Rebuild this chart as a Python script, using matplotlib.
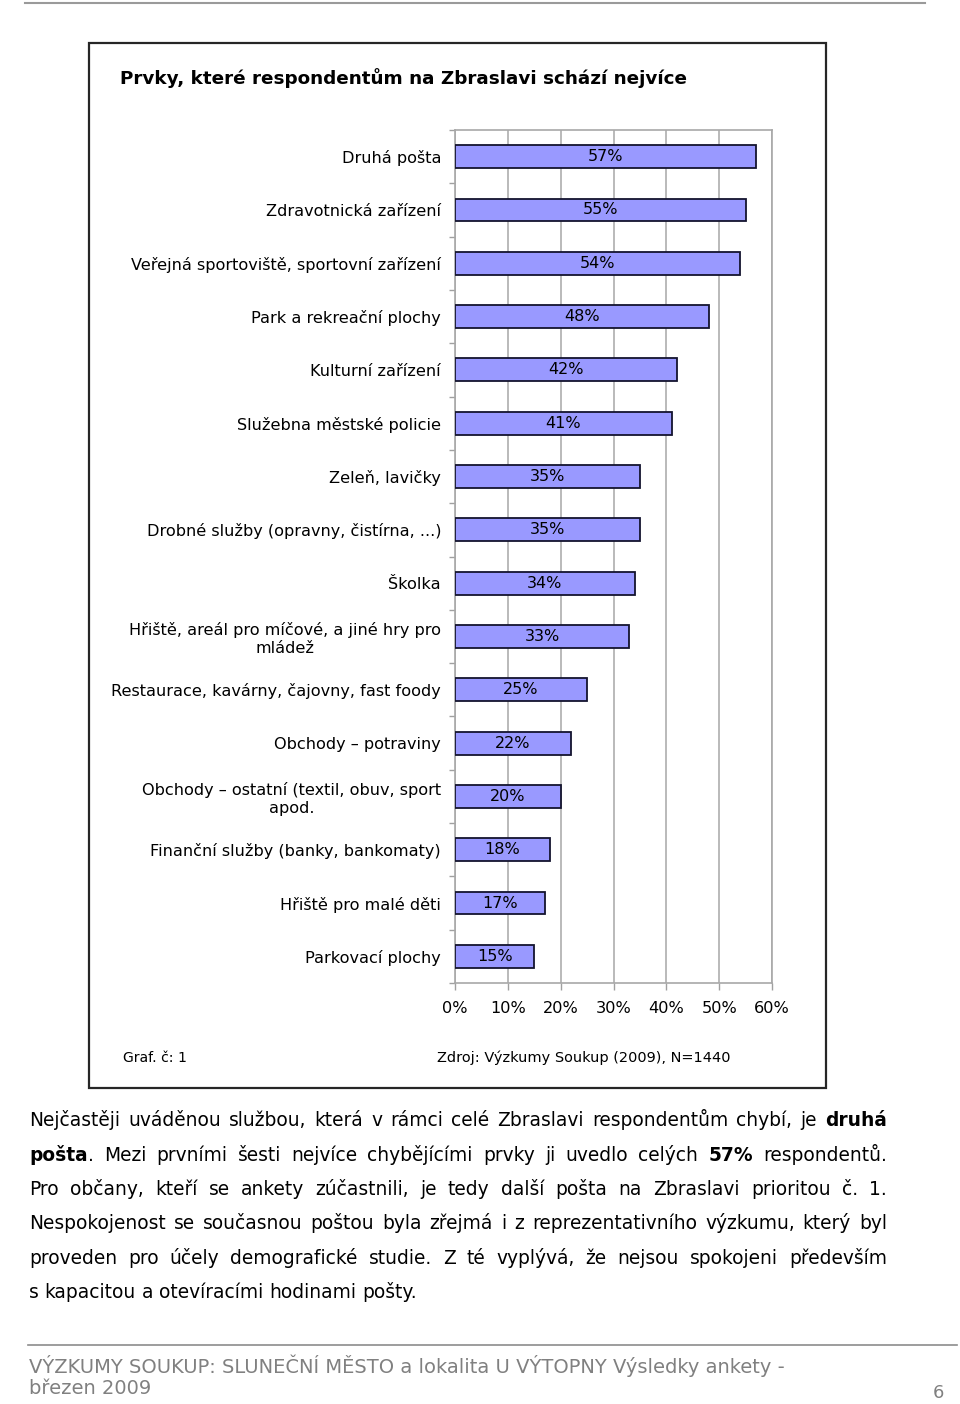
import numpy as np
import matplotlib.pyplot as plt
from matplotlib.patches import Rectangle

# data
categories = [
    'Druhá pošta',
    'Zdravotnická zařízení',
    'Veřejná sportoviště, sportovní zařízení',
    'Park a rekreační plochy',
    'Kulturní zařízení',
    'Služebna městské policie',
    'Zeleň, lavičky',
    'Drobné služby (opravny, čistírna, ...)',
    'Školka',
    'Hřiště, areál pro míčové, a jiné hry pro\nmládež',
    'Restaurace, kavárny, čajovny, fast foody',
    'Obchody – potraviny',
    'Obchody – ostatní (textil, obuv, sport\napod.',
    'Finanční služby (banky, bankomaty)',
    'Hřiště pro malé děti',
    'Parkovací plochy',
]
values = [57, 55, 54, 48, 42, 41, 35, 35, 34, 33, 25, 22, 20, 18, 17, 15]
x_ticks = [0, 10, 20, 30, 40, 50, 60]

title = 'Prvky, které respondentům na Zbraslavi schází nejvíce'
graf_note = 'Graf. č: 1'
source_note = 'Zdroj: Výzkumy Soukup (2009), N=1440'

# paragraph lines, *...* marks bold
para_lines = [
    'Nejčastěji uváděnou službou, která v rámci celé Zbraslavi respondentům chybí, je *druhá*',
    '*pošta*. Mezi prvními šesti nejvíce chybějícími prvky ji uvedlo celých *57%* respondentů.',
    'Pro občany, kteří se ankety zúčastnili, je tedy další pošta na Zbraslavi prioritou č. 1.',
    'Nespokojenost se současnou poštou byla zřejmá i z reprezentativního výzkumu, který byl',
    'proveden pro účely demografické studie. Z té vyplývá, že nejsou spokojeni především',
    's kapacitou a otevíracími hodinami pošty.',
]
footer_lines = ['VÝZKUMY SOUKUP: SLUNEČNÍ MĚSTO a lokalita U VÝTOPNY Výsledky ankety -',
                'březen 2009']
page_no = '6'

plt.rcParams['font.family'] = 'DejaVu Sans'

fig = plt.figure(figsize=(9.6, 14.04), dpi=100)
renderer = fig.canvas.get_renderer()

# page coordinates in pixels
page = fig.add_axes([0, 0, 1, 1])
page.set_xlim(0, 960)
page.set_ylim(1404, 0)
page.axis('off')

page.plot([25, 925], [3, 3], color='#9a9a9a', lw=1.5)
page.plot([28, 957], [1345, 1345], color='#8c8c8c', lw=1.2)
page.add_patch(Rectangle((89, 43), 737, 1045, fill=False, edgecolor='#262626', lw=1.6))


def fit_text(x, y, s, width, **kw):
    t = page.text(x, y, s, **kw)
    w = t.get_window_extent(renderer).width
    t.set_fontsize(t.get_fontsize() * width / w)
    return t


fit_text(120, 78, title, 563, fontsize=13, fontweight='bold', va='center', ha='left')
fit_text(123, 1058, graf_note, 64, fontsize=10, va='center', ha='left')
fit_text(437, 1058, source_note, 292, fontsize=10, va='center', ha='left')

# chart
ax = fig.add_axes([455 / 960, 1 - 983 / 1404, 317 / 960, 853 / 1404])
y = np.arange(len(categories))
bars = ax.barh(y, values, height=0.43, color='#9999ff', edgecolor='#14142e', lw=1.3, zorder=3)
ax.bar_label(bars, labels=[f'{v}%' for v in values], label_type='center', fontsize=11.5)
ax.set_xlim(0, 60)
ax.set_ylim(len(categories) - 0.5, -0.5)
ax.set_xticks(x_ticks)
ax.set_xticklabels([f'{t}%' for t in x_ticks])
ax.set_yticks(y)
ax.set_yticklabels(categories)
ax.set_yticks(np.arange(-0.5, len(categories), 1), minor=True)
ax.tick_params(axis='y', which='major', length=0, pad=10, labelsize=11.6)
ax.tick_params(axis='y', which='minor', length=4, color='#a0a0a0', width=1)
ax.tick_params(axis='x', length=5, color='#a0a0a0', width=1, labelsize=11.6, pad=8)
for lab in ax.get_yticklabels():
    lab.set_multialignment('center')
ax.grid(axis='x', color='#b4b4b4', lw=1.3, zorder=0)
ax.set_axisbelow(True)
for sp in ax.spines.values():
    sp.set_color('#a8a8a8')
    sp.set_linewidth(1.2)


# justified paragraph
def segments(word):
    parts = word.split('*')
    return [(p, i % 2 == 1) for i, p in enumerate(parts) if p]


def seg_width(s, bold, fs):
    t = page.text(0, 0, s, fontsize=fs, fontweight='bold' if bold else 'normal')
    w = t.get_window_extent(renderer).width
    t.remove()
    return w


para_fs = 13.4
space_w = seg_width('a a', False, para_fs) - seg_width('aa', False, para_fs)

left, right = 29, 887
line_y = [1120, 1155, 1189, 1223, 1258, 1292]
for i, (line, ly) in enumerate(zip(para_lines, line_y)):
    words = [segments(w) for w in line.split(' ')]
    widths = [sum(seg_width(s, b, para_fs) for s, b in w) for w in words]
    if i < len(para_lines) - 1:
        gap = (right - left - sum(widths)) / (len(words) - 1)
    else:
        gap = space_w
    x = left
    for w, ww in zip(words, widths):
        cx = x
        for s, b in w:
            page.text(cx, ly + 6, s, fontsize=para_fs, fontweight='bold' if b else 'normal',
                      va='baseline', ha='left')
            cx += seg_width(s, b, para_fs)
        x += ww + gap

# footer
fit_text(29, 1366, footer_lines[0], 753, fontsize=13, color='#808080', va='center', ha='left')
page.text(29, 1389, footer_lines[1], fontsize=page.texts[-1].get_fontsize(), color='#808080',
          va='center', ha='left')
page.text(944, 1393, page_no, fontsize=13, color='#808080', va='center', ha='right')

fig.savefig('out.png', dpi=100)
